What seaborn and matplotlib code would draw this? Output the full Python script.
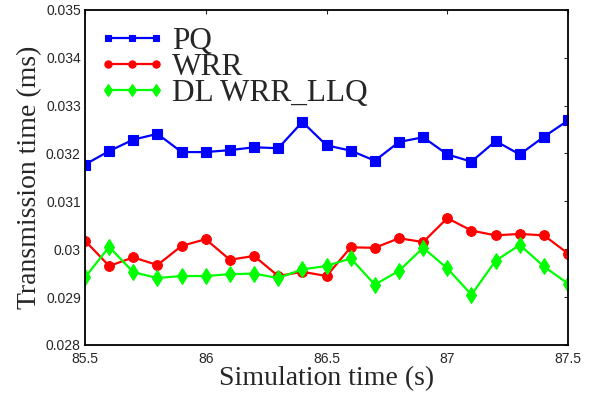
import matplotlib
matplotlib.use("Agg")
import matplotlib.pyplot as plt
import pandas as pd
import seaborn as sns

# simulation time (s), one sample every 0.1 s
sim_time = [85.5, 85.6, 85.7, 85.8, 85.9, 86.0, 86.1, 86.2, 86.3, 86.4, 86.5,
            86.6, 86.7, 86.8, 86.9, 87.0, 87.1, 87.2, 87.3, 87.4, 87.5]

# transmission time (ms) per scheduler
pq = [0.03177, 0.03205, 0.03229, 0.03241, 0.03203, 0.03203, 0.03207, 0.03213,
      0.03211, 0.03266, 0.03217, 0.03206, 0.03185, 0.03224, 0.03234, 0.03198,
      0.03183, 0.03226, 0.03198, 0.03235, 0.03269]
wrr = [0.03018, 0.02965, 0.02983, 0.02967, 0.03007, 0.03021, 0.02978, 0.02986,
       0.02944, 0.02953, 0.02944, 0.03004, 0.03003, 0.03023, 0.03015, 0.03065,
       0.03039, 0.03029, 0.03032, 0.03029, 0.02991]
dl_wrr_llq = [0.02941, 0.03005, 0.02952, 0.02940, 0.02944, 0.02944, 0.02948,
              0.02949, 0.02940, 0.02958, 0.02965, 0.02981, 0.02926, 0.02955,
              0.03003, 0.02960, 0.02905, 0.02976, 0.03009, 0.02964, 0.02928]

series_names = ["PQ", "WRR", "DL WRR_LLQ"]
x_ticks = [85.5, 86, 86.5, 87, 87.5]
x_tick_labels = ["85.5", "86", "86.5", "87", "87.5"]
y_ticks = [0.028, 0.029, 0.030, 0.031, 0.032, 0.033, 0.034, 0.035]
y_tick_labels = ["0.028", "0.029", "0.03", "0.031", "0.032", "0.033", "0.034", "0.035"]

df = pd.DataFrame({"time": sim_time * 3,
                   "value": pq + wrr + dl_wrr_llq,
                   "scheduler": [n for n in series_names for _ in sim_time]})

sns.set_style("white")
plt.rcParams["font.family"] = ["Liberation Sans", "DejaVu Sans"]

fig, ax = plt.subplots(figsize=(5.93, 3.95), dpi=100)
fig.subplots_adjust(left=0.1433, right=0.958, top=0.975, bottom=0.1266)

colors = {"PQ": "#0000ff", "WRR": "#ff0000", "DL WRR_LLQ": "#00ff00"}
markers = {"PQ": "s", "WRR": "o", "DL WRR_LLQ": "d"}
sizes = {"PQ": 6.5, "WRR": 7, "DL WRR_LLQ": 8}

for name in series_names:
    sub = df[df["scheduler"] == name]
    sns.lineplot(data=sub, x="time", y="value", ax=ax, color=colors[name],
                 marker=markers[name], markersize=sizes[name], linewidth=1.6,
                 markeredgecolor=colors[name], markeredgewidth=0.8, label=name)

ax.set_xlim(85.5, 87.5)
ax.set_ylim(0.028, 0.035)
ax.set_xticks(x_ticks)
ax.set_xticklabels(x_tick_labels, fontsize=10)
ax.set_yticks(y_ticks)
ax.set_yticklabels(y_tick_labels, fontsize=10)
ax.tick_params(direction="in", length=3, width=0.8, top=True, right=True)
ax.tick_params(axis="x", pad=5)
ax.tick_params(axis="y", pad=3)
for s in ax.spines.values():
    s.set_linewidth(1.3)
    s.set_color("black")

serif = ["Liberation Serif", "DejaVu Serif"]
ax.set_xlabel("Simulation time (s)", fontsize=20, family=serif, labelpad=0)
ax.set_ylabel("Transmission time (ms)", fontsize=20, family=serif, labelpad=3)

ax.legend(loc="upper left", bbox_to_anchor=(-0.008, 1.0), frameon=False,
          prop={"family": serif, "size": 22.5}, numpoints=3, markerscale=0.75,
          handlelength=2.15, handletextpad=0.2, labelspacing=-0.1,
          borderaxespad=0.2, borderpad=0.35)

fig.savefig("out.png", dpi=100)
